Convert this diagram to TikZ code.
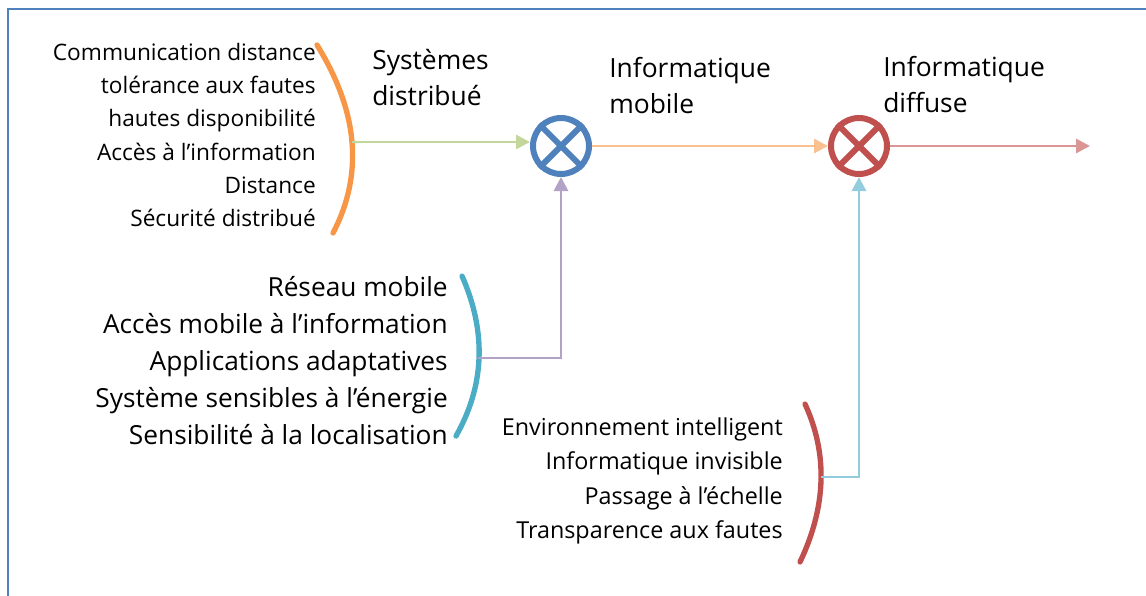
\documentclass[tikz,border=0pt]{standalone}
\usepackage{fontspec}
\setmainfont{Open Sans}
\usetikzlibrary{arrows.meta}
\definecolor{frameblue}{HTML}{4F81BD}
\definecolor{arcorange}{HTML}{F79646}
\definecolor{arcteal}{HTML}{4BACC6}
\definecolor{arcred}{HTML}{C0504D}
\definecolor{lgreen}{HTML}{C3D69B}
\definecolor{lorange}{HTML}{FAC090}
\definecolor{lpink}{HTML}{D99694}
\definecolor{lpurple}{HTML}{B3A2C7}
\definecolor{lblue}{HTML}{93CDDD}
\tikzset{
  opcircle/.style={circle, draw=#1, line width=4.5pt, minimum size=42pt, inner sep=0pt},
  conn/.style={line width=2.2pt, draw=#1},
  arr/.style={conn=#1, -{Triangle[length=10.5pt,width=10.5pt,fill=#1]}},
  bracket/.style={line width=4pt, draw=#1, line cap=round},
  listtext/.style={align=right, inner sep=0pt, anchor=east},
  labeltext/.style={align=left, inner sep=0pt, anchor=north west},
}
\begin{document}
\begin{tikzpicture}[x=0.75pt, y=-0.75pt]
\useasboundingbox (0,0) rectangle (1146,596);
\clip (0,0) rectangle (1146,596);
\draw[frameblue, line width=1.5pt] (8,9) rectangle (1170,640);

% operator circles
\node[opcircle=frameblue] (c1) at (561,146) {};
\node[opcircle=arcred] (c2) at (859,146) {};
\foreach \c/\col in {c1/frameblue, c2/arcred}{
  \draw[line width=4.5pt, \col] (\c.45) -- (\c.225);
  \draw[line width=4.5pt, \col] (\c.135) -- (\c.315);
}

% brackets
\draw[bracket=arcorange] (317,45) .. controls (358.3,111.7) and (363.7,174.3) .. (333,233);
\coordinate (o1) at (352,142);
\draw[bracket=arcteal] (462,276) .. controls (486.7,332) and (484.7,385.3) .. (456,436);
\coordinate (t1) at (478,358);
\draw[bracket=arcred] (805,404) .. controls (828,454) and (826.3,506.7) .. (800,562);
\coordinate (r1) at (821,477);
\coordinate (end) at (1090,146);

% connectors
\draw[arr=lgreen] (o1) -- (o1 -| c1.west);
\draw[arr=lorange] (c1.east) -- (c2.west);
\draw[arr=lpink] (c2.east) -- (end);
\draw[arr=lpurple] (t1) -| (c1.south);
\draw[arr=lblue] (r1) -| (c2.south);

% text blocks
\node[listtext, font=\fontsize{17}{25}\selectfont] (l1) at (316,135) {Communication distance\\tolérance aux fautes\\hautes disponibilité\\Accès à l’information\\Distance\\Sécurité distribué};
\node[listtext, font=\fontsize{19.7}{27.75}\selectfont] (l2) at (448,361) {Réseau mobile\\Accès mobile à l’information\\Applications adaptatives\\Système sensibles à l’énergie\\Sensibilité à la localisation};
\node[listtext, font=\fontsize{17.5}{25.8}\selectfont] (l3) at (783,481) {Environnement intelligent\\Informatique invisible\\Passage à l’échelle\\Transparence aux fautes};

\node[labeltext, font=\fontsize{19.8}{27}\selectfont] (s1) at (372,49) {Systèmes\\distribué};
\node[labeltext, font=\fontsize{19.8}{27}\selectfont] (s2) at (609,57) {Informatique\\mobile};
\node[labeltext, font=\fontsize{19.8}{27}\selectfont] (s3) at (883,56) {Informatique\\diffuse};
\end{tikzpicture}
\end{document}
